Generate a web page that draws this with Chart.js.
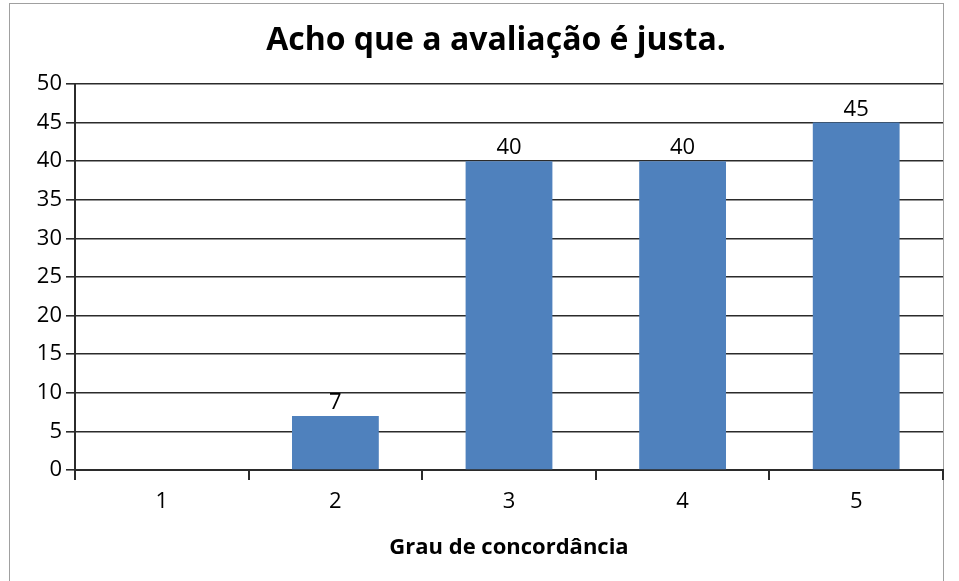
<!DOCTYPE html>
<html>
<head>
<meta charset="utf-8">
<script src="https://cdn.jsdelivr.net/npm/chart.js@4/dist/chart.umd.min.js"></script>
<style>
  html, body { margin: 0; padding: 0; background: #fff; }
  #wrap { width: 959px; height: 581px; position: relative; }
</style>
</head>
<body>
<div id="wrap"><canvas id="chart" width="959" height="581"></canvas></div>
<script>
const categories = ["1", "2", "3", "4", "5"];
const values = [null, 7, 40, 40, 45];
const yTicks = [0, 5, 10, 15, 20, 25, 30, 35, 40, 45, 50];

const titleText = "Acho que a avaliação é justa.";
const xTitleText = "Grau de concordância";
const fontFamily = "'Open Sans', 'DejaVu Sans', sans-serif";

// frame + title drawn by hand, like the spreadsheet export
const framePlugin = {
  id: "frame",
  beforeDraw(chart) {
    const ctx = chart.ctx;
    ctx.save();
    ctx.fillStyle = "#fff";
    ctx.fillRect(0, 0, chart.width, chart.height);
    ctx.strokeStyle = "#a0a0a0";
    ctx.lineWidth = 1;
    ctx.strokeRect(9.5, 3.5, 934, 600);
    ctx.fillStyle = "#000";
    ctx.font = "bold 32px " + fontFamily;
    ctx.textAlign = "center";
    ctx.textBaseline = "middle";
    ctx.fillText(titleText, 496, 41);
    ctx.restore();
  }
};

const valueLabels = {
  id: "valueLabels",
  afterDatasetsDraw(chart) {
    const ctx = chart.ctx;
    const meta = chart.getDatasetMeta(0);
    ctx.save();
    ctx.fillStyle = "#000";
    ctx.font = "22px " + fontFamily;
    ctx.textAlign = "center";
    ctx.textBaseline = "alphabetic";
    meta.data.forEach((bar, i) => {
      const v = values[i];
      if (v === null || v === undefined) return;
      ctx.fillText(String(v), bar.x, bar.y - 7);
    });
    ctx.restore();
  }
};

new Chart(document.getElementById("chart"), {
  type: "bar",
  data: {
    labels: categories,
    datasets: [{
      data: values,
      backgroundColor: "#4f81bd",
      borderWidth: 0,
      categoryPercentage: 1,
      barPercentage: 0.5
    }]
  },
  options: {
    responsive: false,
    animation: false,
    layout: { padding: { left: 0, right: 16, top: 84, bottom: 0 } },
    plugins: {
      legend: { display: false },
      tooltip: { enabled: false },
      title: { display: false }
    },
    scales: {
      x: {
        grid: {
          offset: true,
          drawOnChartArea: false,
          drawTicks: true,
          tickLength: 10,
          color: "#2b2b2b",
          lineWidth: 2
        },
        border: { color: "#2b2b2b", width: 2 },
        ticks: {
          color: "#000",
          padding: 9,
          font: { family: fontFamily, size: 22 }
        },
        title: {
          display: true,
          text: xTitleText,
          color: "#000",
          font: { family: fontFamily, size: 22, weight: "bold" },
          padding: { top: 0, bottom: 20 }
        },
        afterFit(scale) { scale.height = 111; }
      },
      y: {
        min: 0,
        max: 50,
        afterBuildTicks(scale) { scale.ticks = yTicks.map(v => ({ value: v })); },
        grid: {
          color: "#2b2b2b",
          lineWidth: 1.6,
          tickLength: 9
        },
        border: { color: "#2b2b2b", width: 2 },
        ticks: {
          color: "#000",
          padding: 4,
          font: { family: fontFamily, size: 22 }
        },
        afterFit(scale) { scale.width = 75; }
      }
    }
  },
  plugins: [framePlugin, valueLabels]
});
</script>
</body>
</html>
